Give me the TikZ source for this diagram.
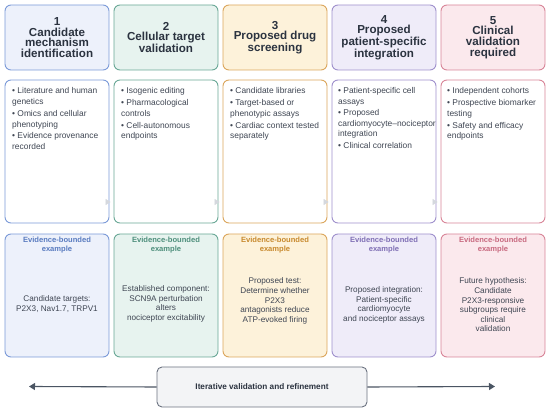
\documentclass[tikz,border=0pt]{standalone}
\usepackage{fontspec}
\setmainfont{Liberation Sans}
\usetikzlibrary{arrows.meta}
\definecolor{cA}{HTML}{7B9AD8}\definecolor{cAF}{HTML}{EDF1FB}\definecolor{cAT}{HTML}{5A7CC0}
\definecolor{cB}{HTML}{6AA896}\definecolor{cBF}{HTML}{E7F3EF}\definecolor{cBT}{HTML}{4E8F7C}
\definecolor{cC}{HTML}{DBA65C}\definecolor{cCF}{HTML}{FDF2DA}\definecolor{cCT}{HTML}{C88A2E}
\definecolor{cD}{HTML}{9F90CC}\definecolor{cDF}{HTML}{EFECF9}\definecolor{cDT}{HTML}{8070B5}
\definecolor{cE}{HTML}{D88598}\definecolor{cEF}{HTML}{FBE9ED}\definecolor{cET}{HTML}{C86A80}
\definecolor{hdrtext}{HTML}{2B3340}
\definecolor{bodytext}{HTML}{3F4653}
\definecolor{barfill}{HTML}{F3F4F6}
\definecolor{barline}{HTML}{6B7280}
\definecolor{arrowcol}{HTML}{4B5563}
\definecolor{tipgrey}{HTML}{D5D8DE}
\begin{document}
\begin{tikzpicture}[x=1pt,y=-1pt,
  hbox/.style={draw=#1, fill=#1F, rounded corners=6pt, line width=0.9pt,
    minimum width=104pt, minimum height=65pt, align=center, inner sep=2pt,
    font=\bfseries\fontsize{11.6}{10.6}\selectfont, text=hdrtext},
  mbox/.style={draw=#1, fill=white, rounded corners=6pt, line width=0.9pt,
    minimum width=104pt, minimum height=143pt},
  bbox/.style={draw=#1, fill=#1F, rounded corners=6pt, line width=0.9pt,
    minimum width=104pt, minimum height=123pt},
  btitle/.style={text=#1T, font=\bfseries\fontsize{7.6}{8.4}\selectfont, align=center, anchor=north, inner sep=0pt},
  mtxt/.style={text=bodytext, font=\fontsize{8.4}{10.8}\selectfont, align=left, anchor=north west, inner sep=0pt},
  btxt/.style={text=bodytext, font=\fontsize{8.2}{9.6}\selectfont, align=center, inner sep=0pt},
  gtip/.style={draw=tipgrey, line width=0.4pt, -{Triangle[length=5pt,width=6pt]}, shorten >=3pt},
  lrarrow/.style={draw=arrowcol, line width=1.1pt, -{Triangle[length=6pt,width=7pt]}},
  barbox/.style={draw=barline, fill=barfill, rounded corners=5pt, line width=0.9pt,
    minimum width=210pt, minimum height=40pt, text=hdrtext,
    font=\bfseries\fontsize{8.2}{10}\selectfont}
]
\useasboundingbox (0,0) rectangle (550,411);

% header boxes
\node[hbox=cA] (h1) at (57,37.5) {1\\Candidate\\mechanism\\identification};
\node[hbox=cB] (h2) at (166,37.5) {2\\Cellular target\\validation};
\node[hbox=cC] (h3) at (275,37.5) {3\\Proposed drug\\screening};
\node[hbox=cD] (h4) at (384,37.5) {4\\Proposed\\patient-specific\\integration};
\node[hbox=cE] (h5) at (493,37.5) {5\\Clinical\\validation\\required};

% middle boxes
\node[mbox=cA] (m1) at (57,151.5) {};
\node[mbox=cB] (m2) at (166,151.5) {};
\node[mbox=cC] (m3) at (275,151.5) {};
\node[mbox=cD] (m4) at (384,151.5) {};
\node[mbox=cE] (m5) at (493,151.5) {};

\node[mtxt] (m1t) at (12,87.5) {• Literature and human\\genetics\\[1pt]• Omics and cellular\\phenotyping\\[1pt]• Evidence provenance\\recorded};
\node[mtxt] (m2t) at (121,87.5) {• Isogenic editing\\[1pt]• Pharmacological\\controls\\[1pt]• Cell-autonomous\\endpoints};
\node[mtxt] (m3t) at (230,87.5) {• Candidate libraries\\[1pt]• Target-based or\\phenotypic assays\\[1pt]• Cardiac context tested\\separately};
\node[mtxt] (m4t) at (338,87.5) {• Patient-specific cell\\assays\\[0pt]• Proposed\\cardiomyocyte–nociceptor\\integration\\[1pt]• Clinical correlation};
\node[mtxt] (m5t) at (447,87.5) {• Independent cohorts\\[1pt]• Prospective biomarker\\testing\\[1pt]• Safety and efficacy\\endpoints};

% bottom boxes
\node[bbox=cA] (b1) at (57,295.5) {};
\node[bbox=cB] (b2) at (166,295.5) {};
\node[bbox=cC] (b3) at (275,295.5) {};
\node[bbox=cD] (b4) at (384,295.5) {};
\node[bbox=cE] (b5) at (493,295.5) {};

% connector tips between middle boxes
\draw[gtip] (m1.east |- 0,202) -- (m2.west |- 0,202);
\draw[gtip] (m2.east |- 0,202) -- (m3.west |- 0,202);
\draw[gtip] (m3.east |- 0,202) -- (m4.west |- 0,202);
\draw[gtip] (m4.east |- 0,202) -- (m5.west |- 0,202);

\node[btitle=cA] (b1h) at (57,237) {Evidence-bounded\\example};
\node[btitle=cB] (b2h) at (166,237) {Evidence-bounded\\example};
\node[btitle=cC] (b3h) at (275,237) {Evidence-bounded\\example};
\node[btitle=cD] (b4h) at (384,237) {Evidence-bounded\\example};
\node[btitle=cE] (b5h) at (493,237) {Evidence-bounded\\example};

\node[btxt] (b1t) at (57,304) {Candidate targets:\\P2X3, Nav1.7, TRPV1};
\node[btxt] (b2t) at (166,304) {Established component:\\SCN9A perturbation\\alters\\nociceptor excitability};
\node[btxt] (b3t) at (275,301) {Proposed test:\\Determine whether\\P2X3\\antagonists reduce\\ATP-evoked firing};
\node[btxt] (b4t) at (384,305) {Proposed integration:\\Patient-specific\\cardiomyocyte\\and nociceptor assays};
\node[btxt] (b5t) at (493,305) {Future hypothesis:\\Candidate\\P2X3-responsive\\subgroups require\\clinical\\validation};

% bottom bar with arrows
\node[barbox] (bar) at (262,387) {Iterative validation and refinement};
\coordinate (la) at (29,386.5);
\coordinate (ra) at (495,386.5);
\draw[lrarrow] (bar.west) -- (la);
\draw[lrarrow] (bar.east) -- (ra);
\end{tikzpicture}
\end{document}
